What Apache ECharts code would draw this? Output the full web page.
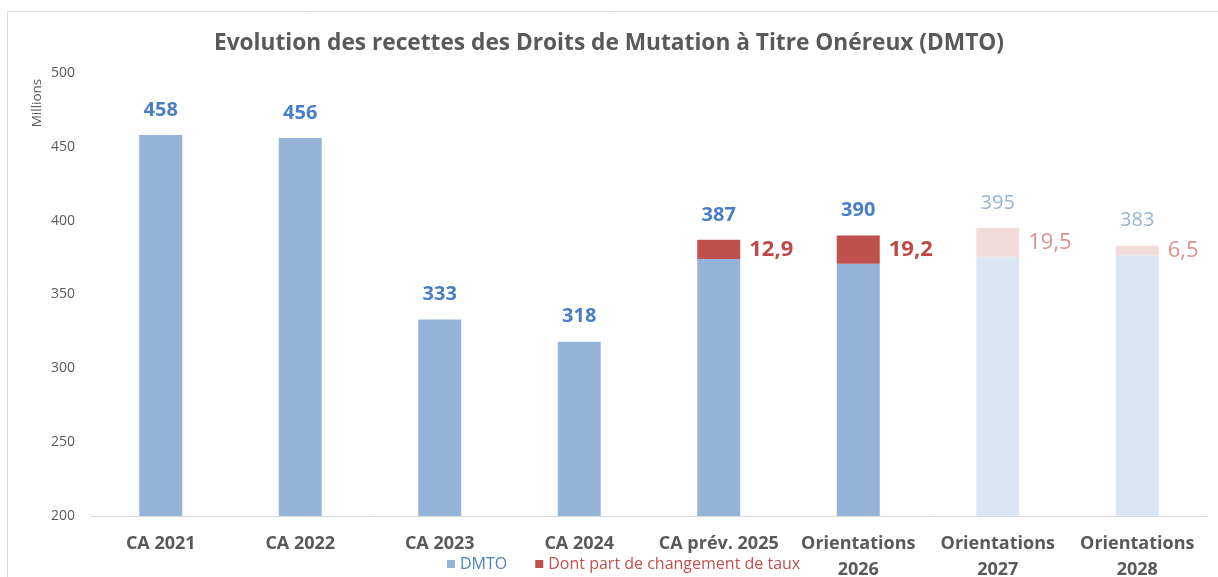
<!DOCTYPE html>
<html>
<head>
<meta charset="utf-8">
<script src="https://cdn.jsdelivr.net/npm/echarts@6/dist/echarts.min.js"></script>
<style>
    html, body { margin: 0; padding: 0; background: #fff; }
    #DMTO_chart { width: 1218px; height: 577px; }
</style>
</head>
<body>
<div id="DMTO_chart"></div>
<script>
//données - début
var categories = ['CA 2021', 'CA 2022', 'CA 2023', 'CA 2024', 'CA prév. 2025', 'Orientations\n2026', 'Orientations\n2027', 'Orientations\n2028'];
var totals = [458, 456, 333, 318, 387, 390, 395, 383];       //total DMTO (étiquette au-dessus)
var parts = [0, 0, 0, 0, 12.9, 19.2, 19.5, 6.5];            //dont part de changement de taux
var projected = [false, false, false, false, false, false, true, true];   //années en couleur pâle
var yTicks = [200, 250, 300, 350, 400, 450, 500];
//données - fin

var FONT = '"Open Sans", "Liberation Sans", sans-serif';

function frNum(v) {     //virgule décimale
    return String(v).replace('.', ',');
}

function Build_Option() {
    var base = [], part = [], top = [];
    for (var i = 0; i <= (categories.length - 1); i++) {
        base.push({
            value: Math.round((totals[i] - parts[i]) * 10) / 10,
            itemStyle: { color: projected[i] ? '#dce6f2' : '#95b3d7' }
        });
        part.push({
            value: parts[i],
            itemStyle: { color: projected[i] ? '#f2dcdb' : '#c0504d' },
            label: {
                color: projected[i] ? '#e0908d' : '#be4846',
                fontWeight: projected[i] ? 'normal' : 'bold'
            }
        });
        top.push({
            value: 0,
            label: {
                color: projected[i] ? '#95b3d7' : '#4a7ec4',
                fontWeight: projected[i] ? 'normal' : 'bold'
            }
        });
    }

    return {
        animation: false,
        backgroundColor: '#fff',
        title: {
            text: 'Evolution des recettes des Droits de Mutation à Titre Onéreux (DMTO)',
            left: 'center',
            top: 27,
            textStyle: { fontFamily: FONT, fontSize: 22.7, fontWeight: 'bold', color: '#595959' }
        },
        graphic: [
            {
                type: 'rect',
                shape: { x: 7.5, y: 11.5, width: 1400, height: 800 },
                style: { fill: 'none', stroke: '#d9d9d9', lineWidth: 1 },
                silent: true
            },
            {
                type: 'text',
                x: 37, y: 103,
                rotation: Math.PI / 2,
                style: {
                    text: 'Millions', fontFamily: FONT, fontSize: 13.5, fill: '#595959',
                    align: 'center', verticalAlign: 'middle'
                }
            }
        ],
        legend: {
            top: 551,
            left: 442,
            icon: 'rect',
            itemWidth: 8,
            itemHeight: 8,
            itemGap: 28,
            textStyle: { fontFamily: FONT, fontSize: 16 },
            data: [
                { name: 'DMTO', textStyle: { color: '#4f81bd' } },
                { name: 'Dont part de changement de taux', textStyle: { color: '#c0504d' } }
            ]
        },
        grid: { left: 91, right: 11, top: 73, bottom: 61, outerBoundsMode: 'none' },
        xAxis: {
            type: 'category',
            data: categories,
            axisLine: { lineStyle: { color: '#d9d9d9', width: 1 } },
            axisTick: { show: false },
            axisLabel: {
                fontFamily: FONT, fontSize: 18, fontWeight: 'bold', color: '#595959',
                lineHeight: 26, margin: 15, interval: 0
            }
        },
        yAxis: {
            type: 'value',
            min: yTicks[0],
            max: yTicks[yTicks.length - 1],
            interval: yTicks[1] - yTicks[0],
            splitLine: { show: false },
            axisLine: { show: false },
            axisTick: { show: false },
            axisLabel: { fontFamily: FONT, fontSize: 14, color: '#595959', margin: 16 }
        },
        series: [
            {
                name: 'DMTO',
                type: 'bar',
                stack: 'dmto',
                barWidth: 43,
                itemStyle: { color: '#95b3d7' },
                data: base
            },
            {
                name: 'Dont part de changement de taux',
                type: 'bar',
                stack: 'dmto',
                itemStyle: { color: '#c0504d' },
                label: {
                    show: true,
                    position: 'right',
                    distance: 9,
                    fontFamily: FONT,
                    fontSize: 22,
                    formatter: function (p) { return p.value ? frNum(p.value) : ''; }
                },
                data: part
            },
            {
                name: 'total',
                type: 'bar',
                stack: 'dmto',
                silent: true,
                label: {
                    show: true,
                    position: 'top',
                    distance: 15,
                    fontFamily: FONT,
                    fontSize: 20,
                    formatter: function (p) { return String(totals[p.dataIndex]); }
                },
                data: top
            }
        ]
    };
}

var DMTO_chart = echarts.init(document.getElementById('DMTO_chart'), null, { renderer: 'canvas' });
DMTO_chart.setOption(Build_Option());
</script>
</body>
</html>
